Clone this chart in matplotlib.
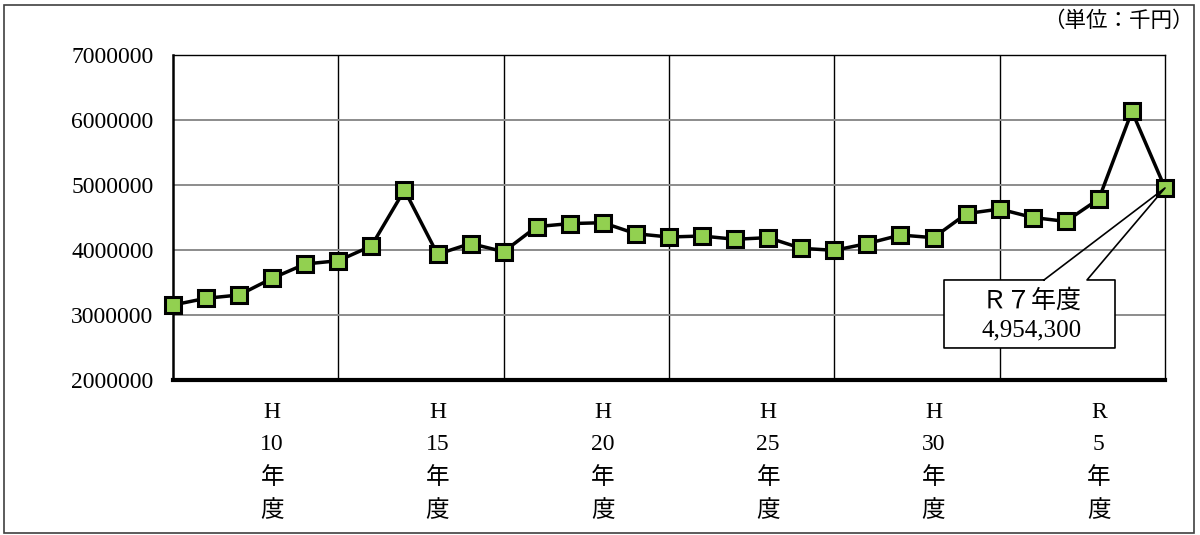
import matplotlib
matplotlib.use("Agg")
import matplotlib.pyplot as plt
import matplotlib.patches as mpatches
import matplotlib.transforms as mtransforms
from matplotlib.lines import Line2D

# H7 .. R7 (fiscal years), values in thousand yen
years = list(range(31))
values = [3154000, 3257000, 3308000, 3565000, 3785000, 3835000, 4062000,
          4923000, 3934000, 4100000, 3974000, 4360000, 4406000, 4420000,
          4250000, 4200000, 4215000, 4165000, 4190000, 4026000, 3995000,
          4100000, 4230000, 4190000, 4560000, 4630000, 4500000, 4440000,
          4785000, 6134000, 4954300]
tick_pos = [3, 8, 13, 18, 23, 28]
tick_labels = ["H\n10\n年\n度", "H\n15\n年\n度", "H\n20\n年\n度",
               "H\n25\n年\n度", "H\n30\n年\n度", "R\n5\n年\n度"]
divider_pos = [5, 10, 15, 20, 25]
yticks = [2000000, 3000000, 4000000, 5000000, 6000000, 7000000]
callout_text = "Ｒ７年度\n4,954,300"
unit_text = "（単位：千円）"

FONT = ["Liberation Serif", "Noto Sans CJK JP", "DejaVu Sans"]
plt.rcParams["font.family"] = FONT

W, H = 1200, 535
fig = plt.figure(figsize=(W / 100, H / 100), dpi=100)
fig.subplots_adjust(left=173 / W, right=1165 / W, bottom=1 - 380 / H, top=1 - 55 / H)
ax = fig.add_subplot(111)

# outer frame
fig.patches.append(mpatches.Rectangle((4 / W, 2 / H), 1190 / W, 528 / H,
                                      transform=fig.transFigure, fill=False,
                                      edgecolor="#404040", lw=1.2))

ax.plot(years, values, color="black", lw=2.5, marker="s", markersize=11.5,
        markerfacecolor="#92D050", markeredgecolor="black", markeredgewidth=2.2,
        clip_on=False, zorder=5)

ax.set_xlim(0, 30)
ax.set_ylim(2000000, 7000000)
ax.set_yticks(yticks)
ax.set_yticklabels([str(v) for v in yticks])
ax.set_xticks(tick_pos)
ax.set_xticklabels(tick_labels, linespacing=1.68)
ax.set_xticks(divider_pos, minor=True)
ax.tick_params(axis="both", which="both", length=0, labelsize=17)
ax.tick_params(axis="y", pad=14)
ax.tick_params(axis="x", pad=16)

ax.grid(axis="y", color="#8c8c8c", lw=1.4)
ax.grid(axis="x", which="minor", color="black", lw=1.0)
ax.set_axisbelow(True)

for side in ["top", "right"]:
    ax.spines[side].set_linewidth(1.0)
ax.spines["left"].set_linewidth(1.8)
ax.spines["bottom"].set_linewidth(3.0)

fig.text(1194 / W, 1 - 22 / H, unit_text, ha="right", va="center", fontsize=15.5)

# callout for the last point, drawn in pixel offsets from the point
fig.canvas.draw()
px, py = ax.transData.transform((years[-1], values[-1]))
ident = mtransforms.IdentityTransform()
left, right, top, bottom = px - 221, px - 50, py - 92, py - 160
wl, wr = px - 121, px - 78
ax.add_patch(mpatches.Rectangle((left, bottom), right - left, top - bottom,
                                transform=ident, facecolor="white",
                                edgecolor="none", clip_on=False, zorder=6))
outline = Line2D([wl, left, left, right, right, wr, px, wl],
                 [top, top, bottom, bottom, top, top, py, top],
                 transform=ident, color="black", lw=1.2, clip_on=False, zorder=7)
ax.add_line(outline)
ax.text((left + right) / 2 + 2, (top + bottom) / 2 - 1, callout_text,
        transform=ident, ha="center", va="center", fontsize=18,
        linespacing=1.4, zorder=8)

fig.savefig("out.png", dpi=100)
